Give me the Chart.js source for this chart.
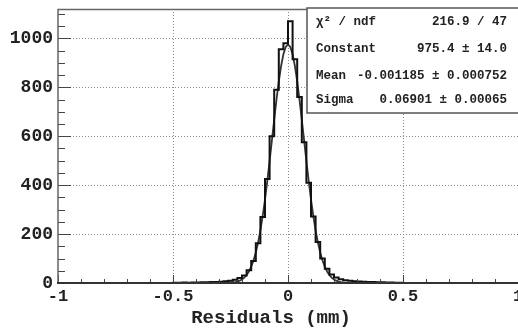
<!DOCTYPE html>
<html>
<head>
<meta charset="utf-8">
<script src="https://cdn.jsdelivr.net/npm/chart.js@4/dist/chart.umd.min.js"></script>
<style>
  html, body { margin: 0; padding: 0; background: #fff; }
  canvas { display: block; }
</style>
</head>
<body>
<canvas id="c" width="518" height="331"></canvas>
<script>
// ---- data ----
const xMin = -1, xMax = 1, binWidth = 0.02;
// 100 bins from -1 to 1 (bin width 0.02)
const counts = [
  0,0,0,0,0,0,0,0,0,0, 0,0,0,0,0,0,0,0,0,0, 0,0,0,0,0,
  1,1,2,1,2,2,3,3,4,4, 5,7,9,13,20,31,52,90,162,270, 425,600,790,955,980,
  1070,915,760,575,410,272,168,100,58,35, 22,15,11,9,7,6,5,4,4,3, 3,2,2,1,1,
  0,0,0,0,0,0,0,0,0,0, 0,0,0,0,0,0,0,0,0,0, 0,0,0,0,0
];
// Gaussian fit curve
const fitX = [-1,-0.5,-0.30,-0.29,-0.28,-0.27,-0.26,-0.25,-0.24,-0.23,-0.22,-0.21,-0.20,-0.19,-0.18,-0.17,-0.16,-0.15,-0.14,-0.13,-0.12,-0.11,-0.10,-0.09,-0.08,-0.07,-0.06,-0.05,-0.04,-0.03,-0.02,-0.01,0,0.01,0.02,0.03,0.04,0.05,0.06,0.07,0.08,0.09,0.10,0.11,0.12,0.13,0.14,0.15,0.16,0.17,0.18,0.19,0.20,0.21,0.22,0.23,0.24,0.25,0.26,0.27,0.28,0.29,0.30,0.5,1];
const fitY = [0,0,0.1,0.1,0.3,0.5,0.8,1.4,2.3,3.8,6.0,9.5,14.6,22.1,32.4,47.1,66.4,91.7,124.5,165.5,215,274,341,417,498,583,668,750,824,887,935,965,975,965,935,887,824,750,668,583,498,417,341,274,215,165.5,124.5,91.7,66.4,47.1,32.4,22.1,14.6,9.5,6.0,3.8,2.3,1.4,0.8,0.5,0.3,0.1,0.1,0,0];
const xTicks = [-1, -0.5, 0, 0.5, 1];
const yTicks = [0, 200, 400, 600, 800, 1000];
const yMax = 1120;
const statsLabels = ["\u03C7\u00B2 / ndf", "Constant", "Mean", "Sigma"];
const statsValues = ["216.9 / 47", "975.4 \u00B1 14.0", "-0.001185 \u00B1 0.000752", "0.06901 \u00B1 0.00065"];
const xTitle = "Residuals (mm)";

// ---- build library data ----
const histPoints = counts.map((v, i) => ({ x: xMin + i * binWidth, y: v }));
histPoints.push({ x: xMax, y: counts[counts.length - 1] });
const fitPoints = fitX.map((x, i) => ({ x: x, y: fitY[i] }));

const MONO = '"Liberation Mono", "Courier New", monospace';

const rootDecor = {
  id: 'rootDecor',
  afterDatasetsDraw(chart) {
    const { ctx, chartArea: a, scales: { x, y } } = chart;
    ctx.save();
    // inner tick marks (ROOT style)
    ctx.strokeStyle = '#444';
    ctx.lineWidth = 1;
    ctx.beginPath();
    for (let v = 0; v <= yMax + 1e-9; v += 50) {
      const py = Math.round(y.getPixelForValue(v)) + 0.5;
      const len = (v % 200 === 0) ? 13 : 7;
      ctx.moveTo(a.left, py); ctx.lineTo(a.left + len, py);
    }
    for (let k = -10; k <= 10; k++) {
      const v = k / 10;
      const px = Math.round(x.getPixelForValue(v)) + 0.5;
      const len = (k % 5 === 0) ? 8 : 4;
      ctx.moveTo(px, a.bottom); ctx.lineTo(px, a.bottom - len);
    }
    ctx.stroke();
    // frame
    ctx.strokeStyle = '#666';
    ctx.lineWidth = 1.5;
    ctx.beginPath();
    ctx.moveTo(a.right, a.top + 0.5); ctx.lineTo(a.left, a.top + 0.5);
    ctx.lineTo(a.left, a.bottom);
    ctx.stroke();
    ctx.strokeStyle = '#333';
    ctx.lineWidth = 2;
    ctx.beginPath();
    ctx.moveTo(a.left - 1, a.bottom); ctx.lineTo(a.right, a.bottom);
    ctx.stroke();
    // stats box
    const bx = 307, by = 8, bw = 230, bh = 105;
    ctx.fillStyle = '#fff';
    ctx.fillRect(bx, by, bw, bh);
    ctx.strokeStyle = '#555';
    ctx.lineWidth = 1.5;
    ctx.strokeRect(bx, by, bw, bh);
    ctx.fillStyle = '#222';
    ctx.font = 'bold 12.5px ' + MONO;
    ctx.textBaseline = 'middle';
    const rows = [21.5, 49, 76, 100];
    statsLabels.forEach((t, i) => {
      ctx.textAlign = 'left';
      ctx.fillText(t, 316, rows[i]);
      ctx.textAlign = 'right';
      ctx.fillText(statsValues[i], 507, rows[i]);
    });
    // axis title
    ctx.font = 'bold 19px ' + MONO;
    ctx.textAlign = 'center';
    ctx.textBaseline = 'middle';
    ctx.fillStyle = '#222';
    ctx.fillText(xTitle, 271, 318);
    ctx.restore();
  }
};

const edgeGrid = (vals) => (c) => {
  const v = c.tick ? c.tick.value : null;
  if (v === vals[0] || v === vals[vals.length - 1]) return 'rgba(0,0,0,0)';
  return '#888';
};

new Chart(document.getElementById('c').getContext('2d'), {
  type: 'line',
  data: {
    datasets: [
      { label: 'hist', data: histPoints, stepped: true, borderColor: '#111', borderWidth: 2, pointRadius: 0, fill: false },
      { label: 'fit', data: fitPoints, borderColor: '#333', borderWidth: 1.8, pointRadius: 0, fill: false, tension: 0 }
    ]
  },
  options: {
    responsive: false,
    animation: false,
    devicePixelRatio: 1,
    layout: { padding: { top: 9, right: 0, left: 0, bottom: 0 } },
    plugins: { legend: { display: false }, tooltip: { enabled: false }, title: { display: false } },
    scales: {
      x: {
        type: 'linear', min: xMin, max: xMax,
        afterBuildTicks: (s) => { s.ticks = xTicks.map(v => ({ value: v })); },
        afterFit: (s) => { s.height = 48; s.paddingLeft = 0; s.paddingRight = 0; },
        ticks: { callback: (v) => String(v), autoSkip: false, maxRotation: 0, padding: 4, color: '#222',
                 font: { family: MONO, size: 17, weight: 'bold' } },
        grid: { color: edgeGrid(xTicks), drawTicks: false, lineWidth: 1 },
        border: { display: false, dash: [1, 2] }
      },
      y: {
        type: 'linear', min: 0, max: yMax,
        afterBuildTicks: (s) => { s.ticks = yTicks.map(v => ({ value: v })); },
        afterFit: (s) => { s.width = 58; s.paddingTop = 0; s.paddingBottom = 0; },
        ticks: { callback: (v) => String(v), autoSkip: false, padding: 5, color: '#222',
                 font: { family: MONO, size: 18, weight: 'bold' } },
        grid: { color: (c) => (c.tick && c.tick.value === 0) ? 'rgba(0,0,0,0)' : '#888', drawTicks: false, lineWidth: 1 },
        border: { display: false, dash: [1, 2] }
      }
    }
  },
  plugins: [rootDecor]
});
</script>
</body>
</html>
